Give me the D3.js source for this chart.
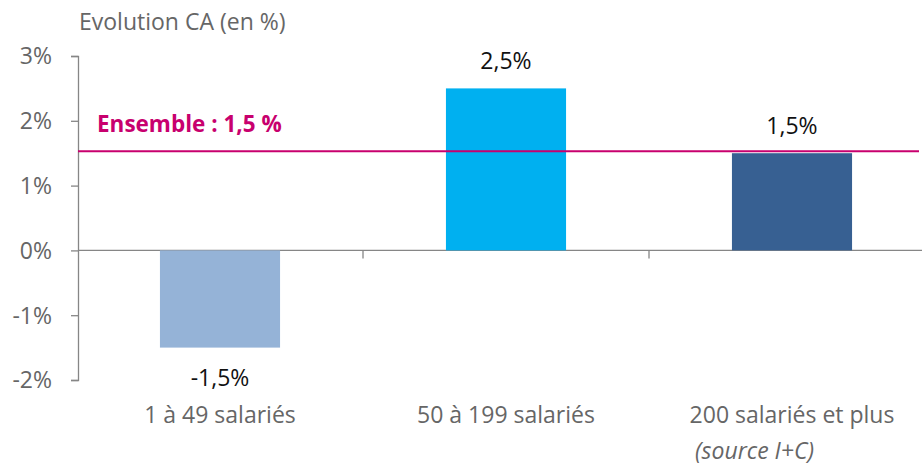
<!DOCTYPE html>
<html lang="fr">
  <head>
    <meta charset="utf-8">
    <title>Evolution CA</title>
    <script src="https://d3js.org/d3.v7.min.js"></script>
    <style>
      body { margin: 0; background: #fff; }
      svg { font-family: "Open Sans", sans-serif; display: block; }
      .axis path, .axis line { stroke: #868686; stroke-width: 1.3; }
      .axis text { fill: #666; font-size: 23px; font-family: "Open Sans", sans-serif; }
    </style>
  </head>
  <body>
    <svg width="922" height="465"></svg>
    <script>

      var categories = ["1 à 49 salariés", "50 à 199 salariés", "200 salariés et plus"],
          values = [-1.5, 2.5, 1.5],
          valueLabels = ["-1,5%", "2,5%", "1,5%"],
          barColors = ["#95b3d7", "#00b0f0", "#376092"],
          yTicks = [-2, -1, 0, 1, 2, 3],
          ensembleValue = 1.53,
          ensembleLabel = "Ensemble : 1,5 %";

      var svg = d3.select("svg"),
          width = +svg.attr("width"),
          height = +svg.attr("height");

      var x = d3.scaleBand()
          .domain(categories)
          .range([77, 935])
          .paddingInner(0.58)
          .paddingOuter(0.29);

      var y = d3.scaleLinear()
          .domain([-2, 3])
          .range([380, 56]);

      var x0 = 78;

      // title
      svg.append("text")
          .attr("x", 79)
          .attr("y", 30)
          .attr("fill", "#666")
          .style("font-size", "23px")
          .text("Evolution CA (en %)");

      // y axis
      svg.append("g")
          .attr("class", "axis")
          .attr("transform", "translate(" + x0 + ",0)")
          .call(d3.axisLeft(y)
            .tickValues(yTicks)
            .tickSize(7)
            .tickSizeOuter(7)
            .tickPadding(19)
            .tickFormat(function(d) { return d + "%"; }))
          .call(function(g) { g.selectAll("text").attr("dy", "0.34em"); });

      // zero line with category separators
      var sep = x.step() * x.paddingInner() / 2;
      var zero = svg.append("g").attr("class", "axis");
      zero.append("line")
          .attr("x1", x0).attr("x2", width)
          .attr("y1", y(0)).attr("y2", y(0));
      zero.selectAll(".sep")
        .data(categories.slice(1))
        .enter().append("line")
          .attr("class", "sep")
          .attr("x1", function(d) { return x(d) - sep; })
          .attr("x2", function(d) { return x(d) - sep; })
          .attr("y1", y(0)).attr("y2", y(0) + 8);

      // bars
      svg.selectAll(".bar")
        .data(values)
        .enter().append("rect")
          .attr("class", "bar")
          .attr("x", function(d, i) { return x(categories[i]); })
          .attr("width", x.bandwidth())
          .attr("y", function(d) { return y(Math.max(0, d)); })
          .attr("height", function(d) { return Math.abs(y(d) - y(0)); })
          .attr("fill", function(d, i) { return barColors[i]; });

      // value labels
      svg.selectAll(".val")
        .data(values)
        .enter().append("text")
          .attr("class", "val")
          .attr("text-anchor", "middle")
          .attr("x", function(d, i) { return x(categories[i]) + x.bandwidth() / 2; })
          .attr("y", function(d) { return d < 0 ? y(d) + 38 : y(d) - 19; })
          .attr("fill", "#111")
          .style("font-size", "23px")
          .text(function(d, i) { return valueLabels[i]; });

      // category labels
      svg.selectAll(".cat")
        .data(categories)
        .enter().append("text")
          .attr("class", "cat")
          .attr("text-anchor", "middle")
          .attr("x", function(d) { return x(d) + x.bandwidth() / 2; })
          .attr("y", 423)
          .attr("fill", "#666")
          .style("font-size", "23px")
          .text(function(d) { return d; });

      // ensemble line
      svg.append("line")
          .attr("x1", x0).attr("x2", 919)
          .attr("y1", y(ensembleValue)).attr("y2", y(ensembleValue))
          .attr("stroke", "#c8006e")
          .attr("stroke-width", 2.2);

      svg.append("text")
          .attr("x", 97)
          .attr("y", 132)
          .attr("fill", "#c8006e")
          .style("font-size", "22.5px")
          .style("font-weight", "bold")
          .text(ensembleLabel);

      svg.append("text")
          .attr("x", 695)
          .attr("y", 459)
          .attr("fill", "#666")
          .style("font-size", "23px")
          .style("font-style", "italic")
          .text("(source I+C)");

    </script>
  </body>
</html>
